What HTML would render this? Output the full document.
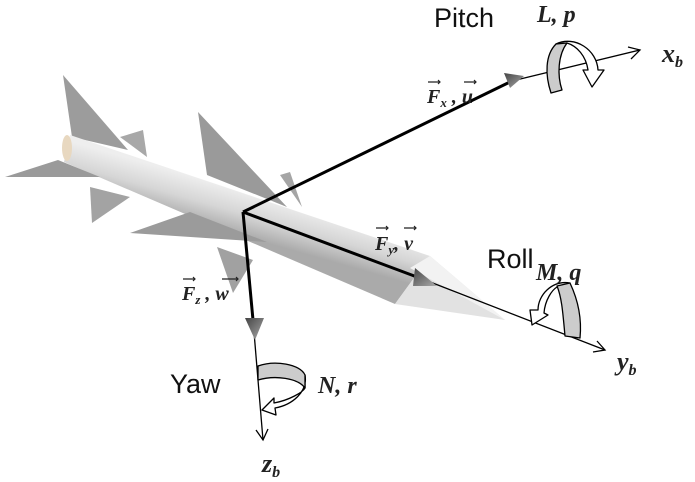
<!DOCTYPE html>
<html><head><style>
body{margin:0;background:#fff;}
svg{display:block;}
.t{font-family:"Liberation Sans",sans-serif;font-size:27px;fill:#111;}
.m{font-family:"Liberation Serif",serif;font-style:italic;font-weight:bold;fill:#222;}
</style></head><body>
<svg width="695" height="482" viewBox="0 0 695 482">
<defs>
<linearGradient id="b" gradientUnits="userSpaceOnUse" x1="240" y1="190" x2="228" y2="232">
<stop offset="0" stop-color="#eeeeee"/><stop offset="0.5" stop-color="#d6d6d6"/><stop offset="1" stop-color="#aaaaaa"/>
</linearGradient>
<linearGradient id="ah" x1="0" y1="0" x2="1" y2="1"><stop offset="0" stop-color="#444"/><stop offset="1" stop-color="#aaa"/></linearGradient>
</defs>
<!-- fins behind -->
<polygon points="63,75 72,137 128,150" fill="#9c9c9c"/>
<polygon points="120,137 143,130 147,157" fill="#a8a8a8"/>
<polygon points="198,112 207,175 287,207" fill="#9a9a9a"/>
<polygon points="280,175 290,172 302,207" fill="#a5a5a5"/>
<!-- body -->
<polygon points="70,135 430,256 395,304 64,162" fill="url(#b)"/>
<ellipse cx="67" cy="148" rx="5" ry="13" fill="#e8d8c0"/>
<polygon points="430,256 505,320 395,304" fill="#e2e2e2"/>
<polygon points="410,268 430,256 505,320" fill="#f2f2f2"/>
<!-- fins front -->
<polygon points="5,177 58,160 100,177" fill="#9a9a9a"/>
<polygon points="90,187 92,223 130,197" fill="#a3a3a3"/>
<polygon points="130,233 190,212 267,242" fill="#9b9b9b"/>
<polygon points="217,247 233,293 253,260" fill="#a1a1a1"/>
<!-- axes -->
<line x1="243" y1="212" x2="512" y2="81" stroke="#000" stroke-width="3"/>
<line x1="512" y1="81" x2="640" y2="50" stroke="#000" stroke-width="1.3"/>
<polyline points="628,47 640,50 631,59" fill="none" stroke="#000" stroke-width="1.3"/>
<polygon points="504,73 524,76 510,88" fill="url(#ah)"/>
<line x1="243" y1="212" x2="425" y2="280" stroke="#000" stroke-width="3"/>
<line x1="425" y1="280" x2="605" y2="350" stroke="#000" stroke-width="1.3"/>
<polyline points="593,352 605,350 597,341" fill="none" stroke="#000" stroke-width="1.3"/>
<polygon points="415,268 437,286 413,286" fill="url(#ah)"/>
<line x1="243" y1="212" x2="253" y2="320" stroke="#000" stroke-width="3"/>
<line x1="253" y1="320" x2="263" y2="440" stroke="#000" stroke-width="1.3"/>
<polyline points="256,430 263,440 268,429" fill="none" stroke="#000" stroke-width="1.3"/>
<polygon points="245,318 264,318 255,340" fill="url(#ah)"/>
<!-- pitch rotation -->
<g stroke="#000" stroke-width="1.3" stroke-linejoin="round">
<path d="M556,44 C575,35 597,50 598,70 L604,70 L592,87 L583,70 L588,70 C586,56 577,46 567,43 Z" fill="#fff"/>
<path d="M551,93 C545,75 545,55 556,44 L567,43 C558,55 557,75 562,90 Z" fill="#ccc"/>
<!-- roll rotation -->
<path d="M570,283 C552,280 538,295 538,310 L530,310 L532,325 L548,315 L544,313 C545,300 552,290 557,287 Z" fill="#fff"/>
<path d="M565,336 C563,315 562,298 557,286 L570,283 C578,300 582,318 580,338 Z" fill="#ccc"/>
<!-- yaw rotation -->
<path d="M305,375 C308,392 292,405 275,408 L276,415 L262,410 L274,398 L274,403 C290,400 303,392 305,388 Z" fill="#fff"/>
<path d="M258,366 C275,360 300,364 305,375 L305,388 C298,378 275,375 258,380 Z" fill="#ccc"/>
</g>
<!-- labels -->
<text class="t" x="434" y="27">Pitch</text>
<text class="t" x="487" y="268">Roll</text>
<text class="t" x="170" y="393">Yaw</text>
<text class="m" x="537" y="22" font-size="24">L, p</text>
<text class="m" x="536" y="280" font-size="24">M, q</text>
<text class="m" x="318" y="393" font-size="24">N, r</text>
<text class="m" x="662" y="62" font-size="26">x<tspan font-size="16" dy="5">b</tspan></text>
<text class="m" x="617" y="370" font-size="26">y<tspan font-size="16" dy="5">b</tspan></text>
<text class="m" x="262" y="472" font-size="26">z<tspan font-size="16" dy="5">b</tspan></text>
<text class="m" x="427" y="103" font-size="20">F<tspan font-size="13" dy="4">x</tspan><tspan dy="-4"> , u</tspan></text>
<text class="m" x="375" y="250" font-size="20">F<tspan font-size="13" dy="4">y</tspan><tspan dy="-4">, v</tspan></text>
<text class="m" x="182" y="300" font-size="20">F<tspan font-size="13" dy="4">z</tspan><tspan dy="-4"> , w</tspan></text>
<g stroke="#222" stroke-width="1.2" fill="none">
<path d="M428,82 h12 M438,80 l2,2 -2,2"/><path d="M464,82 h12 M474,80 l2,2 -2,2"/>
<path d="M376,228 h12 M386,226 l2,2 -2,2"/><path d="M404,228 h12 M414,226 l2,2 -2,2"/>
<path d="M183,279 h12 M193,277 l2,2 -2,2"/><path d="M222,279 h16 M236,277 l2,2 -2,2"/>
</g>
</svg>
</body></html>
